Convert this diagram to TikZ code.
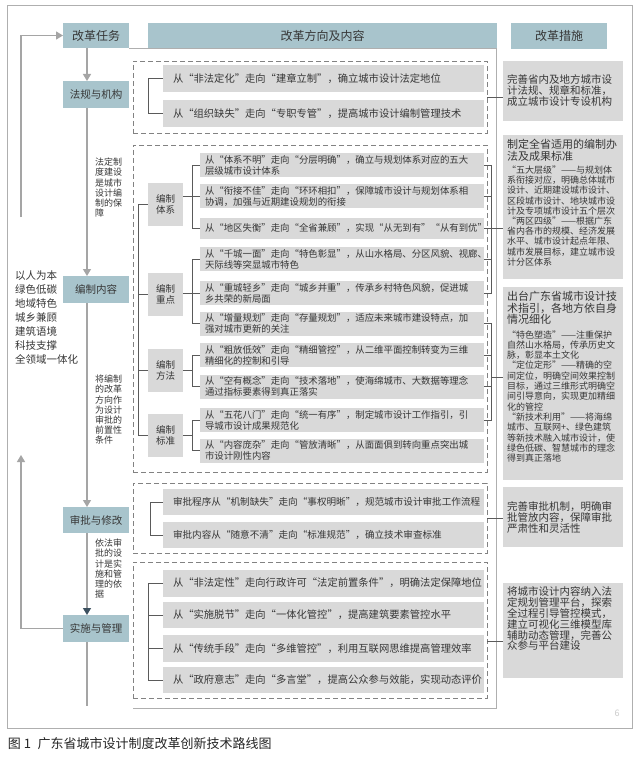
\documentclass[tikz,border=0pt]{standalone}
\usepackage{fontspec}
\setmainfont{Noto Sans CJK SC}
\usetikzlibrary{arrows.meta}
\definecolor{hblue}{RGB}{168,196,204}
\definecolor{gbox}{RGB}{217,217,217}
\definecolor{txt}{RGB}{55,55,55}
\definecolor{lnk}{RGB}{90,90,90}
\definecolor{arrg}{RGB}{165,165,165}
\definecolor{arrd}{RGB}{60,80,95}
\definecolor{dsh}{RGB}{130,130,130}
\definecolor{frm}{RGB}{175,175,175}
\begin{document}
\begin{tikzpicture}[x=1pt,y=-1pt,
 every node/.style={text=txt, inner sep=0pt, outer sep=0pt},
 hdr/.style={fill=hblue, font=\fontsize{12}{14}\selectfont},
 task/.style={fill=hblue, minimum width=66pt, font=\fontsize{10.5}{12}\selectfont},
 sub/.style={fill=gbox, minimum width=35pt, minimum height=43pt, align=center, font=\fontsize{9.5}{11}\selectfont},
 itm/.style={fill=gbox, align=left, inner xsep=5pt, font=\fontsize{9.4}{11}\selectfont},
 itmw/.style={fill=gbox, align=left, inner xsep=10pt, text width=301pt, font=\fontsize{10.3}{12}\selectfont},
 itmm/.style={fill=gbox, align=left, inner xsep=10pt, text width=301pt, font=\fontsize{9.6}{11}\selectfont},
 meas/.style={fill=gbox, inner sep=4pt},
 dbox/.style={draw=dsh, line width=0.8pt, dash pattern=on 5pt off 3pt},
 brk/.style={draw=lnk, line width=0.6pt},
 flow/.style={draw=arrg, line width=1.3pt},
 ahd/.style={-{Triangle[width=8pt,length=7pt]}},
 note/.style={anchor=north west, align=left, font=\fontsize{9}{10.2}\selectfont},
]
\useasboundingbox (0,0) rectangle (640,759);
\fill[white] (0,0) rectangle (640,759);
% outer frame
\draw[frm, line width=0.8pt] (7,5) rectangle (632,728);

% headers
\node[hdr, minimum width=66pt, minimum height=25pt] (t0) at (96,35.5) {改革任务};
\node[hdr, minimum width=349pt, minimum height=25pt] (h1) at (322.5,35.5) {改革方向及内容};
\node[hdr, minimum width=96pt, minimum height=26pt] (h2) at (559,36) {改革措施};

% middle frame
\draw[frm, line width=0.6pt] (t0.south east) -- (496,48) -- (496,708) -- (133,708);

% task boxes
\node[task, minimum height=27pt] (t1) at (96,94.5) {法规与机构};
\node[task, minimum height=27pt] (t2) at (96,289.5) {编制内容};
\node[task, minimum height=26pt] (t3) at (96,520) {审批与修改};
\node[task, minimum height=27pt] (t4) at (96,628.5) {实施与管理};

% flow arrows
\draw[flow, ahd] ([xshift=-9pt]t0.south) -- ([xshift=-9pt]t1.north);
\draw[flow, ahd] ([xshift=-9pt]t1.south) -- ([xshift=-9pt]t2.north);
\draw[flow, ahd] ([xshift=-9pt]t2.south) -- ([xshift=-9pt]t3.north);
\draw[flow, -{Triangle[width=8pt,length=7pt,color=arrd,fill=arrd]}] ([xshift=-9pt]t3.south) -- ([xshift=-9pt]t4.north);
\coordinate (bend) at (87,706);
\draw[flow] ([xshift=-9pt]t4.south) -- (bend);

% loop
\coordinate (lb) at (21,628.5);
\coordinate (lu) at (21,455);
\coordinate (lt) at (21,217);
\coordinate (lc) at (21,35.5);
\draw[flow, ahd] (t4.west) -- (lb) -- (lu);
\draw[flow, ahd] (lt) -- (lc) -- (t0.west);

% notes
\node[note] (n1) at (95,158) {法定制\\度建设\\是城市\\设计编\\制的保\\障};
\node[note] (n2) at (95,375) {将编制\\的改革\\方向作\\为设计\\审批的\\前置性\\条件};
\node[note] (n3) at (95,539) {依法审\\批的设\\计是实\\施和管\\理的依\\据};
\node[anchor=north west, align=left, font=\fontsize{10.5}{14}\selectfont] (prn) at (15,271) {以人为本\\绿色低碳\\地域特色\\城乡兼顾\\建筑语境\\科技支撑\\全领域一体化};

% dashed groups
\node[dbox, minimum width=354pt, minimum height=72pt] (d1) at (310,97) {};
\node[dbox, minimum width=354pt, minimum height=327pt] (d2) at (310,308.5) {};
\node[dbox, minimum width=354pt, minimum height=70pt] (d3) at (310,518) {};
\node[dbox, minimum width=354pt, minimum height=136pt] (d4) at (310,630) {};

% group 1 items
\node[itmw, minimum height=27pt] (f1) at (323.5,78.5) {从“非法定化”走向“建章立制”，确立城市设计法定地位};
\node[itmw, minimum height=27pt] (f2) at (323.5,113.5) {从“组织缺失”走向“专职专管”，提高城市设计编制管理技术};
\draw[brk] (f1.west) -- ++(-15,0) |- (f2.west);

% group 2 sub labels
\node[sub] (s1) at (165.5,204.5) {编制\\体系};
\node[sub] (s2) at (165.5,294.5) {编制\\重点};
\node[sub] (s3) at (165.5,370.5) {编制\\方法};
\node[sub] (s4) at (165.5,435.5) {编制\\标准};
\draw[brk] (s1.west) -- ++(-10,0) |- (s4.west);
\draw[brk] (s2.west) -- ++(-10,0);
\draw[brk] (s3.west) -- ++(-10,0);

% group 2 items
\node[itm, text width=274pt, minimum height=24pt] (i1) at (342,165) {从“体系不明”走向“分层明确”，确立与规划体系对应的五大\\层级城市设计体系};
\node[itm, text width=274pt, minimum height=24pt] (i2) at (342,196.5) {从“衔接不佳”走向“环环相扣”，保障城市设计与规划体系相\\协调，加强与近期建设规划的衔接};
\node[itm, text width=274pt, minimum height=21pt] (i3) at (342,228) {从“地区失衡”走向“全省兼顾”，实现“从无到有”“从有到优”};
\node[itm, text width=274pt, minimum height=24pt] (i4) at (342,259) {从“千城一面”走向“特色彰显”，从山水格局、分区风貌、视廊、\\天际线等突显城市特色};
\node[itm, text width=274pt, minimum height=24pt] (i5) at (342,293) {从“重城轻乡”走向“城乡并重”，传承乡村特色风貌，促进城\\乡共荣的新局面};
\node[itm, text width=274pt, minimum height=24pt] (i6) at (342,323.5) {从“增量规划”走向“存量规划”，适应未来城市建设特点，加\\强对城市更新的关注};
\node[itm, text width=274pt, minimum height=24pt] (i7) at (342,355) {从“粗放低效”走向“精细管控”，从二维平面控制转变为三维\\精细化的控制和引导};
\node[itm, text width=274pt, minimum height=24pt] (i8) at (342,386.5) {从“空有概念”走向“技术落地”，使海绵城市、大数据等理念\\通过指标要素得到真正落实};
\node[itm, text width=274pt, minimum height=24pt] (i9) at (342,420) {从“五花八门”走向“统一有序”，制定城市设计工作指引，引\\导城市设计成果规范化};
\node[itm, text width=274pt, minimum height=24pt] (i10) at (342,450.5) {从“内容庞杂”走向“管放清晰”，从面面俱到转向重点突出城\\市设计刚性内容};

\draw[brk] (i1.west) -- ++(-8,0) |- (i3.west);
\draw[brk] (s1.east |- i2.west) -- (i2.west);
\draw[brk] (i4.west) -- ++(-8,0) |- (i6.west);
\draw[brk] (s2.east |- i5.west) -- (i5.west);
\draw[brk] (i7.west) -- ++(-8,0) |- (i8.west);
\draw[brk] (s3.east) -- ++(9,0);
\draw[brk] (i9.west) -- ++(-8,0) |- (i10.west);
\draw[brk] (s4.east) -- ++(9,0);

% group 3 items
\node[itmm, minimum height=26pt] (a1) at (323.5,502) {审批程序从“机制缺失”走向“事权明晰”，规范城市设计审批工作流程};
\node[itmm, minimum height=26pt] (a2) at (323.5,535) {审批内容从“随意不清”走向“标准规范”，确立技术审查标准};
\draw[brk] (a1.west) -- ++(-13,0) |- (a2.west);

% group 4 items
\node[itmw, minimum height=27pt] (b1) at (323.5,583) {从“非法定性”走向行政许可“法定前置条件”，明确法定保障地位};
\node[itmw, minimum height=26pt] (b2) at (323.5,615) {从“实施脱节”走向“一体化管控”，提高建筑要素管控水平};
\node[itmw, minimum height=27pt] (b3) at (323.5,648.5) {从“传统手段”走向“多维管控”，利用互联网思维提高管理效率};
\node[itmw, minimum height=26pt] (b4) at (323.5,680) {从“政府意志”走向“多言堂”，提高公众参与效能，实现动态评价};
\draw[brk] (b1.west) -- ++(-15,0) |- (b4.west);
\draw[brk] (b2.west) -- ++(-15,0);
\draw[brk] (b3.west) -- ++(-15,0);

% measures
\node[meas, minimum width=120pt, minimum height=60pt] (m1) at (563,91) {\parbox{112pt}{\fontsize{10.5}{11}\selectfont 完善省内及地方城市设\\计法规、规章和标准，\\成立城市设计专设机构}};
\node[meas, anchor=north] (m2) at (563,135) {\parbox[c][136pt][t]{112pt}{\raggedright\fontsize{11}{12}\selectfont 制定全省适用的编制办\\法及成果标准\par\vspace{3pt}\fontsize{9}{10.2}\selectfont “五大层级”——与规划体\\系衔接对应，明确总体城市\\设计、近期建设城市设计、\\区段城市设计、地块城市设\\计及专项城市设计五个层次\\“两区四级”——根据广东\\省内各市的规模、经济发展\\水平、城市设计起点年限、\\城市发展目标，建立城市设\\计分区体系}};
\node[meas, anchor=north] (m3) at (563,287) {\parbox[c][185pt][t]{112pt}{\raggedright\fontsize{11}{11.7}\selectfont 出台广东省城市设计技\\术指引，各地方依自身\\情况细化\par\vspace{4pt}\fontsize{9}{10.3}\selectfont “特色塑造”——注重保护\\自然山水格局，传承历史文\\脉，彰显本土文化\\“定位定形”——精确的空\\间定位，明确空间效果控制\\目标，通过三维形式明确空\\间引导意向，实现更加精细\\化的管控\\“新技术利用”——将海绵\\城市、互联网+、绿色建筑\\等新技术融入城市设计，使\\绿色低碳、智慧城市的理念\\得到真正落地}};
\node[meas, minimum width=120pt, minimum height=60pt] (m4) at (563,517) {\parbox{112pt}{\fontsize{10.5}{11}\selectfont 完善审批机制，明确审\\批管放内容，保障审批\\严肃性和灵活性}};
\node[meas, anchor=north] (m5) at (563,583) {\parbox[c][87pt][t]{112pt}{\raggedright\fontsize{10.5}{10.8}\selectfont 将城市设计内容纳入法\\定规划管理平台，探索\\全过程引导管控模式，\\建立可视化三维模型库\\辅助动态管理，完善公\\众参与平台建设}};

% right connectors
\draw[brk] (d1.east) -- (d1.east -| m1.west);
\draw[brk] (i1.east) -- ++(7,0) |- (i5.east);
\foreach \n in {i2,i3,i4} \draw[brk] (\n.east) -- ++(7,0);
\draw[brk] ([xshift=7pt]i3.east) -- (i3.east -| m2.west);
\draw[brk] (i6.east) -- ++(7,0) |- (i9.east);
\foreach \n in {i7,i8} \draw[brk] (\n.east) -- ++(7,0);
\coordinate (cb) at (491,377);
\draw[brk] (cb) -- (cb -| m3.west);
\draw[brk] (d3.east) -- (d3.east -| m4.west);
\coordinate (cd) at (487,641);
\draw[brk] (cd) -- (cd -| m5.west);

% page mark and caption
\node[font=\fontsize{9}{10}\selectfont, text=black!20] (pg) at (617,713) {6};
\node[anchor=west, font=\fontsize{13}{15}\selectfont, text=black!85] (cap) at (8,744) {图 1\hspace{0.5em}广东省城市设计制度改革创新技术路线图};
\end{tikzpicture}
\end{document}
